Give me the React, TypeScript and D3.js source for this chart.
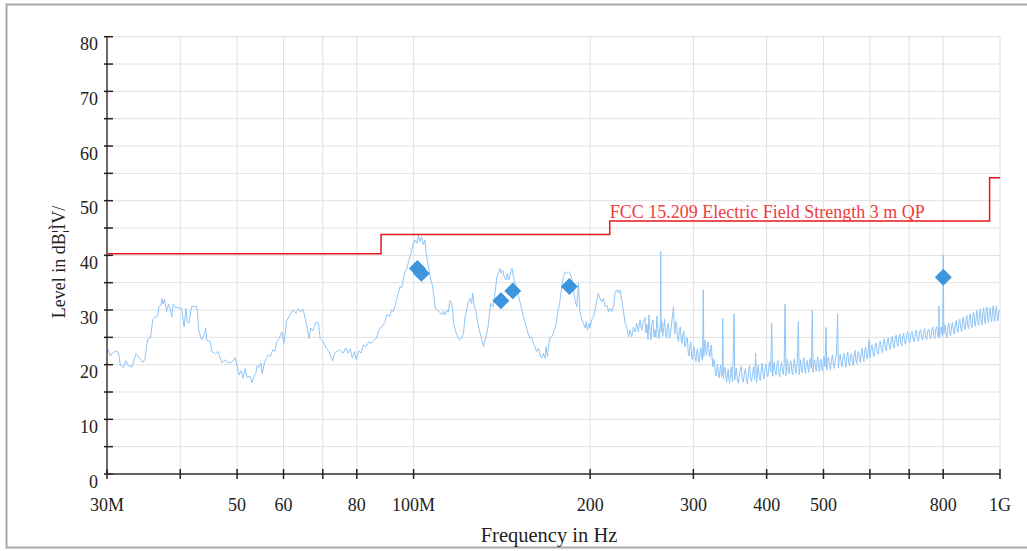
import React, { useRef, useEffect } from "react";
import * as d3 from "d3";

// measured trace: [frequency in MHz, level in dBuV/m]
const trace: [number, number][] = [
  [30.0, 23.3], [30.4, 21.6], [30.7, 22.2], [31.1, 22.5], [31.4, 22.2], [31.6, 19.9], [32.0, 19.5],
  [32.3, 20.7], [32.6, 19.8], [33.1, 19.6], [33.6, 22.0], [34.1, 21.2], [34.5, 20.4], [34.8, 20.9],
  [35.1, 23.9], [35.3, 24.8], [35.6, 25.0], [35.9, 28.2], [36.2, 28.7], [36.6, 28.8], [36.8, 30.6],
  [37.1, 30.9], [37.2, 32.1], [37.4, 31.1], [37.6, 32.0], [37.9, 29.7], [38.2, 31.1], [38.4, 30.3],
  [38.7, 28.7], [38.9, 31.1], [39.2, 30.5], [40.0, 30.3], [40.2, 30.4], [40.6, 26.9], [40.9, 30.3],
  [41.1, 27.9], [41.4, 27.6], [41.8, 30.6], [42.6, 30.7], [42.8, 29.7], [43.0, 26.3], [43.5, 24.5],
  [43.9, 25.4], [44.2, 26.7], [44.4, 24.5], [45.0, 24.2], [45.3, 22.4], [45.9, 22.0], [46.4, 22.4],
  [47.1, 20.3], [47.7, 20.9], [48.3, 20.3], [49.0, 20.5], [49.6, 21.3], [50.0, 19.8], [50.4, 18.1],
  [50.8, 18.9], [51.2, 17.5], [51.6, 19.3], [52.0, 17.7], [52.6, 17.9], [53.0, 16.7], [53.4, 17.8],
  [53.8, 18.4], [54.1, 19.8], [54.5, 19.5], [54.9, 20.3], [55.2, 18.3], [55.7, 20.5], [56.1, 21.0],
  [56.5, 21.8], [57.0, 21.5], [57.5, 22.7], [58.0, 22.4], [58.4, 24.2], [59.0, 24.8], [59.6, 26.0],
  [60.1, 23.9], [60.7, 27.9], [61.5, 29.1], [62.3, 30.0], [63.0, 29.4], [63.6, 30.2], [64.2, 29.6],
  [64.7, 30.2], [65.1, 29.2], [65.8, 26.9], [66.3, 24.8], [66.8, 26.7], [67.3, 26.2], [67.9, 27.3],
  [68.4, 27.9], [68.8, 27.6], [69.3, 24.8], [70.1, 24.2], [71.0, 23.0], [71.7, 22.4], [72.4, 21.2],
  [72.8, 20.7], [73.3, 22.1], [73.9, 22.4], [74.8, 22.7], [75.8, 22.1], [76.6, 23.1], [77.3, 22.1],
  [78.0, 22.9], [78.6, 21.2], [79.3, 22.4], [79.8, 20.9], [80.6, 22.5], [81.4, 22.1], [82.1, 23.6],
  [83.0, 23.3], [83.9, 24.2], [84.7, 23.9], [85.5, 24.5], [86.4, 24.8], [87.0, 26.0], [87.8, 26.7],
  [88.7, 27.3], [89.4, 27.9], [90.1, 29.2], [91.1, 28.8], [91.7, 30.0], [92.3, 29.7], [92.9, 30.6],
  [93.6, 32.1], [94.2, 33.1], [94.8, 34.3], [95.4, 34.0], [96.1, 35.8], [96.7, 37.0], [97.4, 37.6],
  [98.0, 38.8], [98.6, 39.8], [99.3, 41.0], [99.9, 42.2], [100.6, 42.8], [101.3, 42.2], [101.9, 43.7],
  [102.5, 42.5], [103.2, 43.4], [103.9, 41.9], [104.5, 42.8], [105.0, 40.7], [105.6, 38.8], [106.4, 37.0],
  [107.0, 35.5], [107.6, 34.6], [108.1, 33.1], [108.9, 30.3], [109.9, 30.0], [110.6, 29.7], [111.7, 29.1],
  [112.4, 29.8], [113.1, 29.1], [113.9, 30.0], [114.6, 29.6], [115.3, 31.7], [116.1, 31.4], [116.5, 30.3],
  [117.1, 27.3], [118.0, 26.0], [118.6, 25.4], [119.6, 24.5], [120.7, 24.8], [121.6, 25.7], [122.4, 28.8],
  [123.2, 30.0], [124.0, 31.5], [124.8, 32.1], [125.6, 31.2], [126.1, 33.1], [126.8, 30.9], [127.8, 29.7],
  [128.4, 28.2], [129.4, 26.3], [130.2, 25.4], [130.7, 24.5], [131.5, 23.3], [132.4, 24.5], [133.3, 25.7],
  [134.1, 27.3], [134.7, 29.4], [135.4, 31.2], [136.5, 30.6], [137.2, 32.1], [137.9, 33.7], [138.7, 36.1],
  [139.5, 36.7], [140.4, 37.6], [141.1, 36.7], [141.9, 37.3], [142.7, 36.1], [143.8, 35.5], [144.5, 36.7],
  [145.3, 35.5], [146.4, 37.0], [147.2, 37.6], [147.9, 36.1], [148.9, 34.9], [149.9, 33.7], [150.8, 32.7],
  [151.8, 31.5], [152.8, 30.3], [153.8, 28.8], [154.8, 27.9], [155.8, 26.7], [156.8, 25.7], [157.9, 24.8],
  [158.9, 25.1], [160.0, 23.9], [161.0, 23.3], [162.1, 22.4], [163.2, 23.0], [164.3, 21.8], [165.4, 21.2],
  [166.4, 22.1], [167.5, 21.2], [168.2, 23.3], [169.1, 21.5], [170.4, 24.5], [171.3, 25.1], [172.7, 25.4],
  [173.6, 26.3], [175.0, 27.3], [176.1, 29.7], [177.3, 30.9], [178.3, 33.1], [179.2, 34.9], [180.1, 36.1],
  [181.3, 37.0], [182.5, 36.7], [183.7, 37.0], [184.8, 36.7], [186.1, 35.8], [187.3, 33.7], [188.5, 31.8],
  [189.8, 30.6], [191.0, 34.9], [192.2, 29.7], [193.5, 28.2], [194.8, 27.6], [196.1, 26.7], [196.9, 27.9],
  [197.9, 26.3], [199.0, 27.6], [199.9, 26.7], [201.3, 28.2], [202.6, 28.8], [203.9, 30.0], [205.3, 31.8],
  [206.6, 33.1], [207.9, 32.1], [209.3, 31.5], [210.7, 32.1], [212.2, 30.6], [213.6, 30.9], [215.0, 29.7],
  [216.2, 30.3], [217.7, 29.7], [219.2, 30.6], [220.6, 33.1], [222.1, 33.7], [223.6, 33.1], [224.9, 33.7],
  [226.5, 31.8], [228.0, 29.7], [229.5, 27.6], [231.1, 26.7], [232.6, 25.1], [233.9, 26.3], [235.5, 25.1],
  [237.1, 26.9], [238.6, 26.0], [240.2, 27.6], [241.7, 26.0], [243.3, 28.2], [244.9, 26.3], [246.5, 27.9],
  [248, 28.6], [249, 25.8], [250, 27.4], [251, 24.6], [252, 29.1], [253, 26.2], [254, 24.6], [255, 27.7],
  [256, 28.2], [257, 25.1], [258, 26.4], [259, 24.9], [260, 28.9], [261, 26.6], [262, 24.8],
  [263.5, 27.5], [263.9, 40.7], [264.3, 26.0], [265, 27.9], [266, 25.2], [267, 26.8], [268, 28.3],
  [269, 25.6], [270, 24.9], [271, 27.1], [272, 27.6], [273, 24.8], [274, 25.3], [275, 26.9], [276, 28.4],
  [277.5, 30.6], [278.3, 26.4], [279, 25.6], [280, 27.9], [281, 27.2], [282, 24.9], [283, 24.2], [284, 26.3],
  [285, 26.9], [286, 24.5], [287, 23.9], [288, 25.6], [289, 26.1], [290, 23.2], [291, 23.4], [292, 25.0],
  [293, 24.8], [294, 22.1], [295, 21.6], [296, 23.6], [297, 24.2], [298, 21.2], [299, 20.9], [300, 22.8],
  [301, 23.3], [302, 21.5], [303, 20.6], [304, 22.4], [305, 22.9], [306, 20.9], [307, 20.4], [308, 22.2],
  [309, 23.1], [310, 21.3], [311, 20.8], [311.9, 33.7], [312.6, 21.5], [313.3, 23.4], [314, 24.5], [315, 22.6],
  [316, 21.7], [317, 23.8], [318, 24.2], [319, 22.3], [320, 21.4], [321, 22.9], [322, 23.6], [323, 20.8],
  [324, 19.6], [325, 21.0], [326, 20.3], [327, 18.6], [328, 17.9], [329, 19.3], [330, 20.1], [331, 18.3],
  [332, 17.6], [333, 19.0], [334, 19.9], [335, 17.8], [336, 18.0], [336.6, 28.5], [337.5, 17.4], [338.5, 19.1],
  [340, 19.5], [341, 17.6], [342, 16.9], [343, 18.4], [344, 19.2], [345, 17.3], [346, 16.6], [347, 18.6],
  [348, 19.6], [349, 17.8], [350, 16.9], [352, 29.3], [353, 17.2], [354, 18.6], [355, 19.4], [356.5, 17.2],
  [358, 16.6], [360, 18.9], [362, 19.7], [363.5, 17.5], [365, 16.8], [366.5, 18.5], [368, 19.3], [369.5, 17.1],
  [371, 16.5], [372.5, 18.7], [374, 19.8], [375.5, 17.6], [377, 16.9], [378.5, 18.4], [380, 19.6], [381.5, 17.3],
  [383, 22.1], [384.5, 16.7], [386, 18.8], [387, 19.9], [388.5, 17.9], [390, 17.1], [391.5, 19.0], [393, 20.3],
  [394.5, 18.2], [396, 17.4], [397.5, 19.5], [399, 20.1], [400.5, 18.4], [402, 17.8], [403.5, 19.7], [405, 20.6],
  [406.5, 18.6], [408, 27.6], [409.5, 17.9], [411, 19.6], [412, 20.4], [413.5, 18.8], [415, 18.1],
  [416.5, 19.9], [418, 20.8], [419.5, 18.6], [421, 17.8], [422.5, 19.4], [424, 20.5], [425.5, 18.9],
  [427, 18.2], [428.5, 20.1], [430, 31.1], [431.5, 18.0], [433, 19.9], [434, 21.0], [435.5, 19.1],
  [437, 18.3], [438.5, 20.2], [440, 20.7], [441.5, 18.9], [443, 18.1], [444.5, 20.0], [446, 21.1],
  [447.5, 19.3], [449, 18.4], [451, 20.3], [453, 27.9], [454.5, 18.2], [456, 19.8], [457, 20.9], [458.5, 19.0],
  [460, 18.5], [461.5, 20.4], [463, 21.3], [464.5, 19.2], [466, 18.3], [467.5, 20.2], [469, 20.8],
  [470.5, 19.4], [472, 18.6], [473.5, 20.6], [475, 21.2], [476.5, 19.3], [478.5, 30.0], [480, 18.6],
  [481.5, 20.2], [483, 20.9], [484.5, 19.5], [486, 18.8], [487.5, 20.6], [489, 21.4], [490.5, 19.6],
  [492, 18.7], [493.5, 20.4], [495, 21.0], [496.5, 19.4], [498, 18.9], [499.5, 20.7], [501, 21.5],
  [503, 19.6], [505, 26.8], [506.5, 19.0], [508, 20.8], [510, 21.4], [512, 19.8], [514, 19.1], [516, 20.9],
  [518, 21.8], [520, 19.9], [522, 19.3], [524, 21.2], [526, 21.6], [528.6, 29.3], [530, 19.4], [532, 21.1],
  [534, 21.9], [536, 20.3], [538, 19.6], [540, 21.4], [542, 22.1], [544, 20.6], [546, 19.5], [548, 21.5],
  [550, 22.3], [552, 20.4], [554, 19.8], [556, 21.7], [558, 22.0], [560, 20.6], [562, 19.9], [564, 21.9],
  [566, 22.6], [568, 20.8], [570, 20.2], [572, 22.1], [574, 22.4], [576, 21.0], [578, 20.4], [580, 22.4],
  [582, 23.0], [584, 21.3], [586, 20.6], [588, 22.5], [590, 23.2], [592, 21.8], [594, 21.0], [598, 24.6],
  [600, 21.2], [602.5, 22.9], [605, 23.6], [607.5, 22.0], [610, 21.5], [612.5, 23.4], [615, 24.0],
  [617.5, 22.4], [620, 21.9], [622.5, 23.7], [625, 24.3], [627.5, 22.8], [630, 22.2], [632.5, 24.0],
  [635, 24.7], [637.5, 23.1], [640, 22.5], [642.5, 24.4], [645, 24.9], [647.5, 23.3], [650, 22.8],
  [652.5, 24.6], [655, 25.2], [657.5, 23.6], [660, 23.0], [662.5, 24.8], [665, 25.4], [667.5, 23.9],
  [670, 23.3], [672.5, 25.0], [675, 25.6], [677.5, 24.0], [680, 23.4], [682.5, 25.3], [685, 25.8],
  [687.5, 24.2], [690, 23.7], [693, 25.4], [696, 26.0], [699, 24.5], [702, 24.0], [705, 25.7], [708, 26.1],
  [711, 24.6], [714, 24.2], [717, 25.9], [720, 26.3], [723, 24.8], [726, 24.3], [729, 26.0], [732, 26.4],
  [735, 25.0], [738, 24.5], [741, 26.1], [744, 26.6], [747, 25.1], [750, 24.6], [753, 26.2], [756, 26.5],
  [759, 25.2], [762, 24.7], [765, 26.3], [768, 26.9], [771, 25.3], [774, 24.8], [777, 26.5], [780, 27.0],
  [783, 25.4], [786, 24.9], [787, 30.7], [788.5, 25.0], [791, 26.4], [794, 26.9], [796, 25.5], [798, 25.2],
  [800.4, 40.1], [802, 25.6], [804, 26.8], [806, 27.3], [809, 25.6], [812, 25.0], [815, 26.9], [818, 27.6],
  [821, 25.8], [824, 25.3], [827, 27.1], [830, 27.8], [833, 26.1], [836, 25.6], [839, 27.4], [842, 28.1],
  [845, 26.4], [848, 25.9], [851, 27.7], [854, 28.3], [857, 26.6], [860, 26.1], [863, 28.0], [866, 28.7],
  [869, 26.9], [872, 26.4], [875, 28.3], [878, 29.0], [881, 27.1], [884, 26.6], [887, 28.6], [890, 29.3],
  [893, 27.3], [896, 26.8], [899, 28.9], [902, 29.6], [905, 27.6], [908, 27.0], [911, 29.1], [914, 29.9],
  [917, 27.8], [920, 27.2], [923, 29.4], [926, 30.2], [929, 28.0], [932, 27.3], [935, 29.6], [938, 30.4],
  [941, 28.1], [944, 27.5], [947, 29.9], [950, 30.6], [953, 28.3], [956, 27.6], [959, 29.7], [962, 30.4],
  [965, 28.5], [968, 27.8], [971, 30.1], [974, 30.8], [977, 28.6], [980, 27.9], [983, 30.0], [986, 30.7],
  [989, 28.8], [992, 28.0], [996, 29.9], [1000, 29.6],
];

// final QP measurements
const markerFreq = [101.5, 103.1, 140.9, 147.6, 184.3, 800.4];
const markerLevel = [37.6, 36.7, 31.7, 33.5, 34.3, 36.0];

// FCC 15.209 3 m QP limit, step starts
const limitFreq = [30, 88, 216, 960, 1000];
const limitLevel = [40.3, 43.8, 46.3, 54.2, 54.2];
const limitName = "FCC 15.209 Electric Field Strength 3 m QP";

const xTicks = [30, 40, 50, 60, 70, 80, 100, 200, 300, 400, 500, 600, 700, 800, 1000];
const xTickLabels: { [k: number]: string } = {
  30: "30M", 50: "50", 60: "60", 80: "80", 100: "100M",
  200: "200", 300: "300", 400: "400", 500: "500", 800: "800", 1000: "1G",
};
const yTicks = [0, 5, 10, 15, 20, 25, 30, 35, 40, 45, 50, 55, 60, 65, 70, 75, 80];
const yTickLabels = [0, 10, 20, 30, 40, 50, 60, 70, 80];

const App = () => {
  const svgRef = useRef<SVGSVGElement>(null);

  useEffect(() => {
    const width = 1027;
    const height = 551;
    const left = 107, right = 1000, top = 36.7, bottom = 474;
    const font = "'Liberation Serif', 'Times New Roman', serif";

    const svg = d3.select(svgRef.current)
      .attr("width", width)
      .attr("height", height);
    svg.selectAll("*").remove();

    const x = d3.scaleLog().domain([30, 1000]).range([left, right]);
    const y = d3.scaleLinear().domain([0, 80]).range([bottom, top]);

    // frame
    svg.append("rect")
      .attr("x", 6.5).attr("y", 4.5)
      .attr("width", width + 10).attr("height", 543)
      .attr("fill", "white")
      .attr("stroke", "#a8a8a8")
      .attr("stroke-width", 2);

    // grid
    const grid = svg.append("g");
    grid.selectAll("line.h")
      .data(yTicks)
      .enter().append("line")
      .attr("x1", left).attr("x2", right)
      .attr("y1", d => y(d)).attr("y2", d => y(d))
      .attr("stroke", "#e0e0e0").attr("stroke-width", 1);
    grid.selectAll("line.v")
      .data(xTicks)
      .enter().append("line")
      .attr("x1", d => x(d)).attr("x2", d => x(d))
      .attr("y1", top).attr("y2", bottom)
      .attr("stroke", "#e0e0e0").attr("stroke-width", 1);

    // measured trace
    const line = d3.line<[number, number]>()
      .x(d => x(d[0]))
      .y(d => y(d[1]));
    svg.append("path")
      .datum(trace)
      .attr("d", line)
      .attr("fill", "none")
      .attr("stroke", "#8fc5f7")
      .attr("stroke-width", 1);

    // limit line
    const limitLine = d3.line<number>()
      .x((d, i) => x(limitFreq[i]))
      .y(d => y(d))
      .curve(d3.curveStepAfter);
    svg.append("path")
      .datum(limitLevel)
      .attr("d", limitLine)
      .attr("fill", "none")
      .attr("stroke", "#e8161c")
      .attr("stroke-width", 1.5);

    svg.append("text")
      .attr("x", x(limitFreq[2]))
      .attr("y", y(limitLevel[2]) - 3)
      .attr("font-family", font)
      .attr("font-size", 18)
      .attr("fill", "#ee3d3d")
      .text(limitName);

    // markers
    svg.append("g").selectAll("path")
      .data(markerFreq)
      .enter().append("path")
      .attr("d", d3.symbol().type(d3.symbolSquare).size(144))
      .attr("transform", (d, i) => `translate(${x(d)},${y(markerLevel[i])}) rotate(45)`)
      .attr("fill", "#3d95dd");

    // y axis
    svg.append("line")
      .attr("x1", left).attr("x2", left)
      .attr("y1", top).attr("y2", bottom)
      .attr("stroke", "#6a6a6a").attr("stroke-width", 2);
    svg.append("g").selectAll("line")
      .data(yTicks)
      .enter().append("line")
      .attr("x1", left - 3).attr("x2", left + 6)
      .attr("y1", d => y(d)).attr("y2", d => y(d))
      .attr("stroke", "#222").attr("stroke-width", 1.5);
    svg.append("g").selectAll("text")
      .data(yTickLabels)
      .enter().append("text")
      .attr("x", 98)
      .attr("y", d => y(d) + 13.5)
      .attr("text-anchor", "end")
      .attr("font-family", font)
      .attr("font-size", 18)
      .attr("fill", "#222")
      .text(d => String(d));

    // x axis
    svg.append("line")
      .attr("x1", left).attr("x2", right)
      .attr("y1", bottom).attr("y2", bottom)
      .attr("stroke", "#333").attr("stroke-width", 1.5);
    svg.append("g").selectAll("line")
      .data(xTicks)
      .enter().append("line")
      .attr("x1", d => x(d)).attr("x2", d => x(d))
      .attr("y1", bottom - 5).attr("y2", bottom + 5)
      .attr("stroke", "#222").attr("stroke-width", 1.5);
    svg.append("g").selectAll("text")
      .data(xTicks.filter(d => xTickLabels[d]))
      .enter().append("text")
      .attr("x", d => x(d))
      .attr("y", 510.5)
      .attr("text-anchor", "middle")
      .attr("font-family", font)
      .attr("font-size", 18)
      .attr("fill", "#222")
      .text(d => xTickLabels[d]);

    // axis titles
    svg.append("text")
      .attr("x", 549)
      .attr("y", 542)
      .attr("text-anchor", "middle")
      .attr("font-family", font)
      .attr("font-size", 20.5)
      .attr("fill", "#222")
      .text("Frequency in Hz");
    svg.append("text")
      .attr("transform", "translate(65,262) rotate(-90)")
      .attr("text-anchor", "middle")
      .attr("font-family", font)
      .attr("font-size", 18)
      .attr("fill", "#222")
      .text("Level in dB¦ÌV/");
  }, []);

  return (
    <svg ref={svgRef} style={{ position: "absolute", left: 0, top: 0, display: "block" }}></svg>
  );
};

export default App;
